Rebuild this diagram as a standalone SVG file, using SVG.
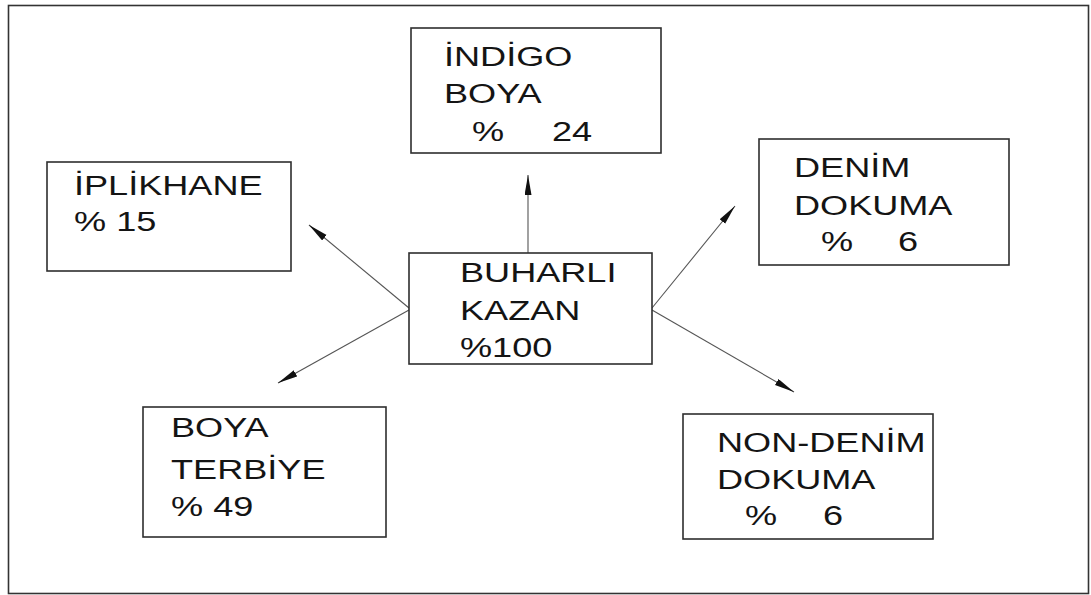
<svg xmlns="http://www.w3.org/2000/svg" width="1091" height="595" viewBox="0 0 1091 595">
  <defs>
    <style>
      .frame { fill: #ffffff; stroke: #333333; stroke-width: 1.6; }
      .box { fill: #ffffff; stroke: #2e2e2e; stroke-width: 1.6; }
      .link { fill: none; stroke: #555555; stroke-width: 1.1; marker-end: url(#head); }
      text { font-family: "Liberation Sans", Arial, sans-serif; font-size: 28px; fill: #141414; }
    </style>
    <marker id="head" markerUnits="userSpaceOnUse" markerWidth="22" markerHeight="8" refX="20" refY="3.5" orient="auto">
      <path d="M0,0 L20,3.5 L0,7 z" fill="#111111"/>
    </marker>
  </defs>

  <!-- page frame -->
  <rect class="frame" x="8.5" y="5.5" width="1080" height="588"/>

  <!-- connectors: steam distribution from the boiler -->
  <g id="connectors">
    <line class="link" x1="528" y1="253" x2="528" y2="175"/>
    <line class="link" x1="409" y1="308" x2="309" y2="225"/>
    <line class="link" x1="409" y1="310" x2="278" y2="383"/>
    <line class="link" x1="652" y1="308" x2="735" y2="206"/>
    <line class="link" x1="652" y1="310" x2="794" y2="392"/>
  </g>

  <g id="buharli-kazan">
    <rect class="box" x="409" y="253" width="243" height="111"/>
    <g transform="translate(460 0) scale(1.29 1)">
      <text x="0" y="282.5">BUHARLI</text>
      <text x="0" y="320.5">KAZAN</text>
      <text x="0" y="356.7">%100</text>
    </g>
  </g>

  <g id="indigo-boya">
    <rect class="box" x="411" y="28" width="250" height="125"/>
    <g transform="translate(444 0) scale(1.29 1)">
      <text x="0" y="66.5">İNDİGO</text>
      <text x="0" y="103">BOYA</text>
      <text y="141"><tspan x="21.7">%</tspan><tspan x="83.7">24</tspan></text>
    </g>
  </g>

  <g id="iplikhane">
    <rect class="box" x="47" y="162" width="244" height="109"/>
    <g transform="translate(74 0) scale(1.29 1)">
      <text x="0" y="195.3">İPLİKHANE</text>
      <text x="0" y="231">% 15</text>
    </g>
  </g>

  <g id="denim-dokuma">
    <rect class="box" x="759" y="139" width="250" height="126"/>
    <g transform="translate(794 0) scale(1.29 1)">
      <text x="0" y="177">DENİM</text>
      <text x="0" y="215">DOKUMA</text>
      <text y="251.5"><tspan x="20.9">%</tspan><tspan x="80.6">6</tspan></text>
    </g>
  </g>

  <g id="boya-terbiye">
    <rect class="box" x="143" y="407" width="243" height="130"/>
    <g transform="translate(171 0) scale(1.29 1)">
      <text x="0" y="436.7">BOYA</text>
      <text x="0" y="479">TERBİYE</text>
      <text x="0" y="515.7">% 49</text>
    </g>
  </g>

  <g id="non-denim-dokuma">
    <rect class="box" x="683" y="414" width="250" height="125"/>
    <g transform="translate(717 0) scale(1.29 1)">
      <text x="0" y="451.7">NON-DENİM</text>
      <text x="0" y="489">DOKUMA</text>
      <text y="525"><tspan x="21.7">%</tspan><tspan x="82.2">6</tspan></text>
    </g>
  </g>
</svg>
